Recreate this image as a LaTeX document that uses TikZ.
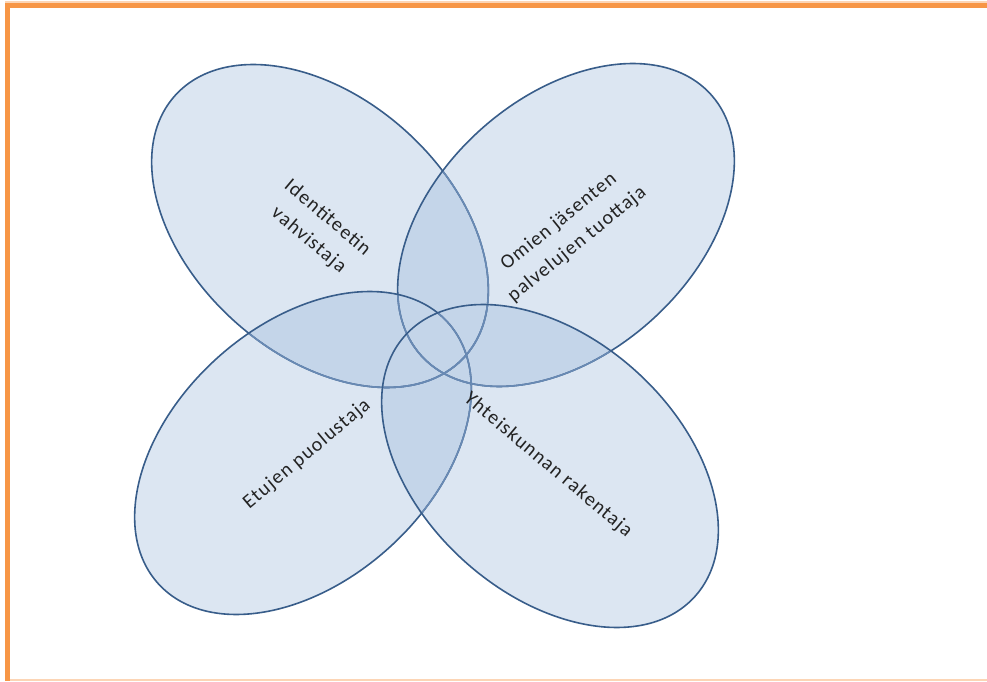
\documentclass[tikz,border=0pt]{standalone}
\usepackage{fontspec}
\setmainfont{Carlito}
\newfontfamily\lblfont[LetterSpace=6]{Carlito}
\definecolor{ofill}{RGB}{79,129,189}
\definecolor{oline}{RGB}{56,93,138}
\definecolor{olight}{RGB}{105,138,180}
\definecolor{oorange}{RGB}{247,150,70}
\definecolor{opeach}{RGB}{252,213,181}
\definecolor{otext}{RGB}{35,35,35}
\newcommand\ellA{(320,455) ellipse [x radius=195, y radius=128]}
\newcommand\ellB{(566,456) ellipse [x radius=195, y radius=128]}
\newcommand\ellC{(303,228) ellipse [x radius=195, y radius=128]}
\newcommand\ellD{(550,215) ellipse [x radius=195, y radius=128]}
\begin{document}
\begin{tikzpicture}[x=1pt,y=1pt,
  ea/.style={rotate around={-42:(320,455)}},
  eb/.style={rotate around={42:(566,456)}},
  ec/.style={rotate around={42:(303,228)}},
  ed/.style={rotate around={-42:(550,215)}},
  rim/.style={draw=oline, line width=1.6pt},
  rimlight/.style={draw=olight, line width=1.6pt},
  lbl/.style={text=otext, align=center, inner sep=0pt, font=\lblfont\fontsize{20}{29}\selectfont}]
\useasboundingbox (0,0) rectangle (987,681);
% frame
\fill[opeach] (5,678) rectangle (987,680);
\fill[oorange] (5,673) rectangle (987,678);
\fill[oorange] (5,0) rectangle (10,678);
\fill[opeach] (10,0) rectangle (987,2);
% base fill of all petals
\begin{scope}[transparency group, opacity=0.2]
  \fill[ofill, ea] \ellA;
  \fill[ofill, eb] \ellB;
  \fill[ofill, ec] \ellC;
  \fill[ofill, ed] \ellD;
\end{scope}
% overlaps
\begin{scope}[transparency group, opacity=0.17]
  \begin{scope}
    \clip[ea] \ellA;
    \fill[ofill, eb] \ellB;
    \fill[ofill, ec] \ellC;
    \fill[ofill, ed] \ellD;
  \end{scope}
  \begin{scope}
    \clip[eb] \ellB;
    \fill[ofill, ec] \ellC;
    \fill[ofill, ed] \ellD;
  \end{scope}
  \begin{scope}
    \clip[ec] \ellC;
    \fill[ofill, ed] \ellD;
  \end{scope}
\end{scope}
% outlines
\path[rim, ea] \ellA;
\begin{scope}
  \clip[eb] \ellB;
  \path[rimlight, ea] \ellA;
\end{scope}
\path[rim, eb] \ellB;
\begin{scope}
  \clip[ec] \ellC;
  \path[rimlight, ea] \ellA;
  \path[rimlight, eb] \ellB;
\end{scope}
\path[rim, ec] \ellC;
\begin{scope}
  \clip[ed] \ellD;
  \path[rimlight, ea] \ellA;
  \path[rimlight, eb] \ellB;
  \path[rimlight, ec] \ellC;
\end{scope}
\path[rim, ed] \ellD;
% labels
\node[lbl, rotate=-40] (l1) at (318,452) {Identiteetin\\vahvistaja};
\node[lbl, rotate=39] (l2) at (568,448) {Omien jäsenten\\palvelujen tuottaja};
\node[lbl, rotate=40] (l3) at (307,227) {Etujen puolustaja};
\node[lbl, rotate=-40] (l4) at (548,216) {Yhteiskunnan rakentaja};
\end{tikzpicture}
\end{document}
